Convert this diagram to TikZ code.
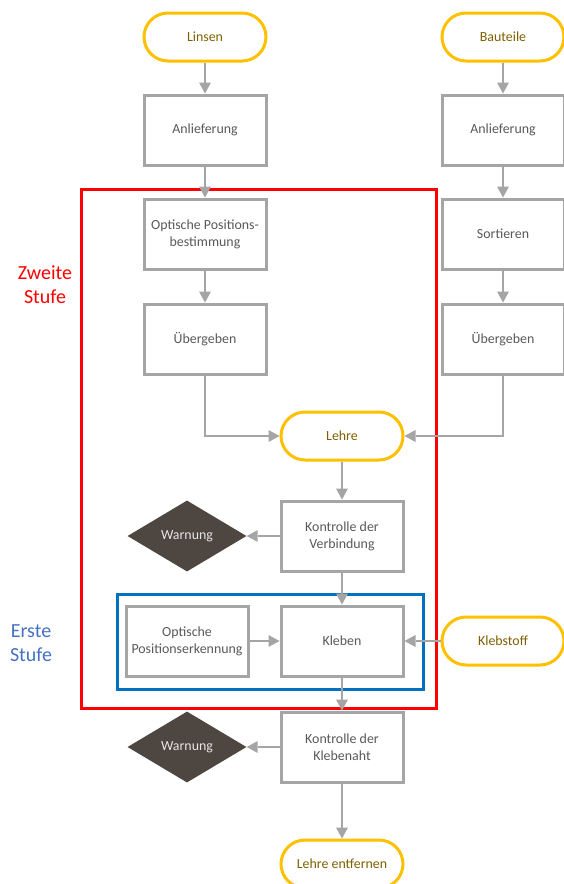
\documentclass[tikz,border=0pt]{standalone}
\usepackage{fontspec}
\setmainfont{Carlito}
\usetikzlibrary{shapes.geometric, arrows.meta, positioning}

\definecolor{linegray}{HTML}{A5A5A5}
\definecolor{textgray}{HTML}{595959}
\definecolor{termorange}{HTML}{FFC000}
\definecolor{termtext}{HTML}{7F6000}
\definecolor{warnfill}{HTML}{4E4640}
\definecolor{warntext}{HTML}{E7E6E6}
\definecolor{stageblue}{HTML}{0070C0}
\definecolor{labelblue}{HTML}{4472C4}

\begin{document}
\begin{tikzpicture}[x=1pt, y=-1pt,
    box/.style={draw=linegray, fill=white, line width=3pt, minimum width=122pt,
      minimum height=70pt, align=center, text=textgray,
      font=\fontsize{13.9}{17}\selectfont},
    term/.style={draw=termorange, fill=white, line width=3pt, rounded corners=24pt,
      minimum width=122pt, minimum height=48pt, text=termtext,
      font=\fontsize{13.9}{17}\selectfont},
    warn/.style={diamond, fill=warnfill, minimum width=119pt, minimum height=71pt,
      inner sep=0pt, text=warntext, font=\fontsize{13.9}{17}\selectfont},
    flow/.style={draw=linegray, line width=2pt,
      -{Triangle[length=11pt,width=12pt,line width=0pt]}},
    stage/.style={align=center, font=\fontsize{20}{24}\selectfont}]
    \useasboundingbox (0,0) rectangle (563,884);

    % frames of the two stages
    \draw[red, line width=3pt] (81,189) rectangle (436,708);
    \draw[stageblue, line width=3pt] (117,594) rectangle (423,689);
    \node[stage, text=red] (zweite) at (45,285) {Zweite\\Stufe};
    \node[stage, text=labelblue] (erste) at (31,643) {Erste\\Stufe};

    % left column
    \node[term] (linsen) at (205,37) {Linsen};
    \node[box] (anlL) at (205,130) {Anlieferung};
    \node[box] (optL) at (205,234) {Optische Positions-\\bestimmung};
    \node[box] (uebL) at (205,339) {Übergeben};

    % right column
    \node[term] (bauteile) at (503,37) {Bauteile};
    \node[box] (anlR) at (503,130) {Anlieferung};
    \node[box] (sort) at (503,234) {Sortieren};
    \node[box] (uebR) at (503,339) {Übergeben};

    % middle
    \node[term] (lehre) at (342,436) {Lehre};
    \node[box] (kontrV) at (342,536) {Kontrolle der\\Verbindung};
    \node[warn] (warnA) at (187,536) {Warnung};
    \node[box] (optE) at (187,641) {Optische\\Positionserkennung};
    \node[box] (kleben) at (342,641) {Kleben};
    \node[term] (klebstoff) at (503,641) {Klebstoff};
    \node[box] (kontrK) at (342,747) {Kontrolle der\\Klebenaht};
    \node[warn] (warnB) at (187,747) {Warnung};
    \node[term] (entf) at (342,864) {Lehre entfernen};

    \draw[flow] (linsen) -- (anlL);
    \draw[flow] (anlL) -- (optL);
    \draw[flow] (optL) -- (uebL);
    \draw[flow] (bauteile) -- (anlR);
    \draw[flow] (anlR) -- (sort);
    \draw[flow] (sort) -- (uebR);
    \draw[flow] (uebL) |- (lehre);
    \draw[flow] (uebR) |- (lehre);
    \draw[flow] (lehre) -- (kontrV);
    \draw[flow] (kontrV) -- (warnA);
    \draw[flow] (kontrV) -- (kleben);
    \draw[flow] (optE) -- (kleben);
    \draw[flow] (klebstoff) -- (kleben);
    \draw[flow] (kleben) -- (kontrK);
    \draw[flow] (kontrK) -- (warnB);
    \draw[flow] (kontrK) -- (entf);
\end{tikzpicture}
\end{document}
